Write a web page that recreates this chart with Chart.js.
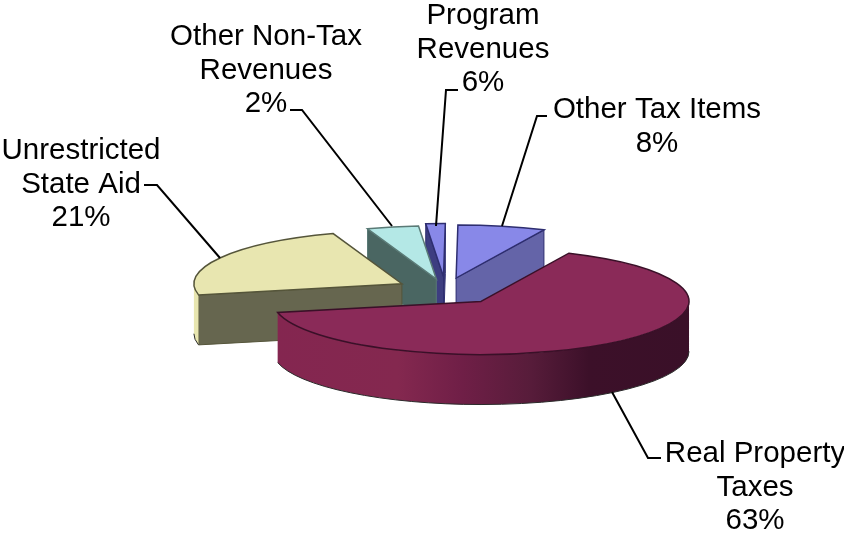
<!DOCTYPE html>
<html>
<head>
<meta charset="utf-8">
<style>
  body { margin: 0; background: #fff; }
  canvas { display: block; }
</style>
<script src="https://cdn.jsdelivr.net/npm/chart.js@4"></script>
</head>
<body>
<canvas id="myChart" width="844" height="533"></canvas>
<script>
// categories and the slice sizes as drawn (the printed % are in the labels)
const categories = ['Other Tax Items', 'Real Property Taxes', 'Unrestricted State Aid', 'Other Non-Tax Revenues', 'Program Revenues'];
const sliceValues = [6.8, 64.7, 23, 4, 1.5];

// look of each slice
const topColors = ['#8888e8', '#8a2a58', '#e8e6b0', '#b4e8e6', '#8888e8'];
const cutColors = ['#6464a8', '#5a1c3c', '#66664f', '#4a6662', '#3d3d80'];
const rimColors = ['#6464a8', '#5a1c3c', '#e8e6b0', '#4a6662', '#3d3d80'];
const edgeColors = ['#2e2e70', '#3a1028', '#55553a', '#5a7a76', '#2e2e70'];
const explode = [48, 57, 50, 44, 52];
const paintOrder = [0, 4, 3, 2, 1];

// text blocks: lines, centre x, first baseline
const labelLines = [
    ['Other Tax Items', '8%'],
    ['Program', 'Revenues', '6%'],
    ['Other Non-Tax', 'Revenues', '2%'],
    ['Unrestricted', 'State Aid', '21%'],
    ['Real Property', 'Taxes', '63%']
];
const labelX = [657, 483, 266, 81, 755];
const labelY = [118, 24, 45, 159, 462];
const leaders = [
    [[547, 116], [537, 116], [502, 226]],
    [[458, 90], [446, 90], [436, 226]],
    [[290, 110], [302, 110], [392, 226]],
    [[144, 185], [157, 185], [220, 258]],
    [[661, 458], [648, 458], [612, 392]]
];

const TILT = 0.2555;
const DEPTH = 50;
const CENTER_Y = 290;

const pie3d = {
    id: 'pie3d',
    beforeDatasetDraw(chart, args) {
        const ctx = chart.ctx;
        const arcs = args.meta.data;
        paintOrder.forEach(function(i) {
            const arc = arcs[i];
            const r = arc.outerRadius;
            const a0 = arc.startAngle;
            const a1 = arc.endAngle;
            const mid = (a0 + a1) / 2;
            const ox = arc.x + Math.cos(mid) * explode[i];
            const oy = CENTER_Y + Math.sin(mid) * explode[i] * TILT;
            const px = function(a) { return ox + Math.cos(a) * r; };
            const py = function(a) { return oy + Math.sin(a) * r * TILT; };

            // cut faces
            ctx.fillStyle = cutColors[i];
            [[a0, Math.cos(a0) < 0], [a1, Math.cos(a1) > 0]].forEach(function(c) {
                if (!c[1]) return;
                ctx.beginPath();
                ctx.moveTo(ox, oy);
                ctx.lineTo(px(c[0]), py(c[0]));
                ctx.lineTo(px(c[0]), py(c[0]) + DEPTH);
                ctx.lineTo(ox, oy + DEPTH);
                ctx.closePath();
                ctx.fill();
                ctx.strokeStyle = edgeColors[i];
                ctx.lineWidth = 1;
                ctx.stroke();
            });

            // outer face, front half only
            const from = Math.max(a0, 0);
            const to = Math.min(a1, Math.PI);
            if (to > from) {
                ctx.beginPath();
                ctx.ellipse(ox, oy, r, r * TILT, 0, from, to);
                ctx.ellipse(ox, oy + DEPTH, r, r * TILT, 0, to, from, true);
                ctx.closePath();
                if (i === 1) {
                    const g = ctx.createLinearGradient(ox - r, 0, ox + r, 0);
                    g.addColorStop(0, '#842650');
                    g.addColorStop(0.3, '#84284f');
                    g.addColorStop(0.45, '#701f47');
                    g.addColorStop(0.62, '#571c3a');
                    g.addColorStop(0.76, '#3c1029');
                    g.addColorStop(1, '#3a1028');
                    ctx.fillStyle = g;
                } else {
                    ctx.fillStyle = rimColors[i];
                }
                ctx.fill();
                ctx.strokeStyle = '#2a2a2a';
                ctx.lineWidth = 1;
                ctx.beginPath();
                ctx.ellipse(ox, oy + DEPTH, r, r * TILT, 0, from, to);
                ctx.stroke();
            }

            // top face, drawn by the library's arc squashed onto the tilt
            ctx.save();
            ctx.translate(ox, oy);
            ctx.scale(1, TILT);
            ctx.translate(-arc.x, -arc.y);
            arc.draw(ctx);
            ctx.restore();

            ctx.beginPath();
            ctx.moveTo(ox, oy);
            ctx.ellipse(ox, oy, r, r * TILT, 0, a0, a1);
            ctx.closePath();
            ctx.strokeStyle = edgeColors[i];
            ctx.lineWidth = 1.5;
            ctx.stroke();
        });
        return false;
    },
    afterDraw(chart) {
        const ctx = chart.ctx;
        ctx.strokeStyle = '#000';
        ctx.lineWidth = 2;
        leaders.forEach(function(pts) {
            ctx.beginPath();
            pts.forEach(function(p, j) {
                if (j === 0) ctx.moveTo(p[0], p[1]);
                else ctx.lineTo(p[0], p[1]);
            });
            ctx.stroke();
        });
        ctx.fillStyle = '#000';
        ctx.font = '29.5px "Liberation Sans", Arial, sans-serif';
        ctx.textAlign = 'center';
        ctx.textBaseline = 'alphabetic';
        labelLines.forEach(function(lines, i) {
            lines.forEach(function(line, j) {
                ctx.fillText(line, labelX[i], labelY[i] + j * 33.6);
            });
        });
    }
};

const myChart = new Chart(document.getElementById('myChart').getContext('2d'), {
    type: 'pie',
    data: {
        labels: categories,
        datasets: [{
            data: sliceValues,
            backgroundColor: topColors,
            borderWidth: 0
        }]
    },
    options: {
        responsive: false,
        animation: false,
        rotation: 0.5,
        radius: 208,
        layout: { padding: { left: 47 } },
        plugins: {
            legend: { display: false },
            title: { display: false },
            tooltip: { enabled: false }
        }
    },
    plugins: [pie3d]
});
</script>
</body>
</html>
